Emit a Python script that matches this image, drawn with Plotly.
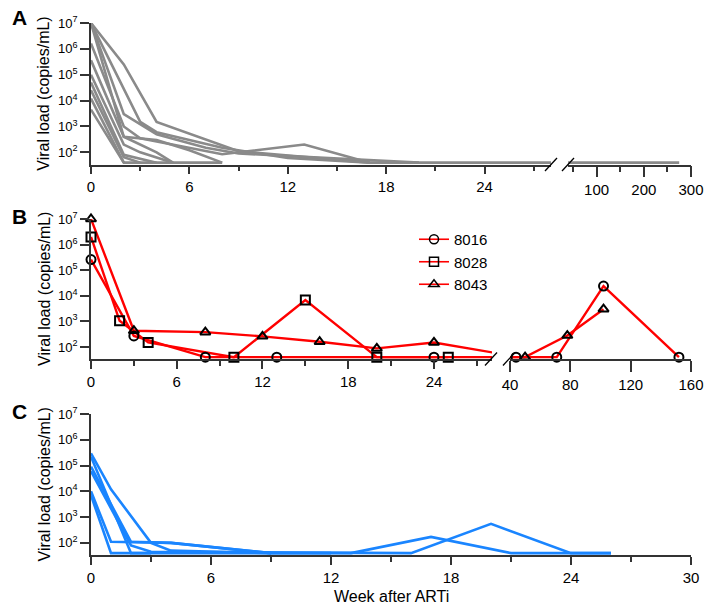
import plotly.graph_objects as go

# ---------------- DATA ----------------
# Panel A (grey): weeks after ARTi and viral load (copies/mL)
a_weeks = [
    [0, 2, 4, 9, 17, 28, 275],
    [0, 3, 4, 8, 12, 17],
    [0, 2, 4, 7, 9, 20],
    [0, 2, 3, 8, 13, 17],
    [0, 2, 4, 6, 8],
    [0, 2, 3, 5],
    [0, 2, 4],
    [0, 2, 3],
    [0, 2],
    [0, 2, 5, 8],
    [0, 2, 4, 5],
]
a_loads = [
    [1e7, 2.5e5, 1.5e3, 110, 40, 40, 40],
    [1e7, 1.5e3, 600, 150, 60, 40],
    [1e7, 3e3, 500, 150, 90, 40],
    [1.6e6, 1e3, 350, 85, 200, 40],
    [3.6e5, 400, 300, 120, 40],
    [1e5, 200, 100, 40],
    [5e4, 80, 40],
    [2.5e4, 65, 40],
    [1.2e4, 40],
    [4.5e3, 40, 40, 40],
    [1e7, 400, 100, 40],
]

# Panel B (red, three animals)
b_ids = ["8016", "8028", "8043"]
b_symbols = ["circle-open", "square-open", "triangle-up-open"]
b_weeks = [
    [0, 3, 8, 13, 24, 32, 44, 71, 102, 152],
    [0, 2, 4, 10, 15, 20, 25],
    [0, 3, 8, 12, 16, 20, 24, 30, 50, 78, 102],
]
b_loads = [
    [2.6e5, 270, 40, 40, 40, 40, 40, 40, 2.4e4, 40],
    [2e6, 1.05e3, 150, 40, 6.8e3, 40, 40],
    [1e7, 430, 380, 260, 160, 88, 150, 40, 40, 280, 3e3],
]

# Panel C (blue)
c_weeks = [
    [0, 1, 3, 4, 9],
    [0, 2, 4, 9, 13, 17, 21, 26],
    [0, 2, 3, 16, 20, 24, 26],
    [0, 1, 4, 9],
    [0, 1, 12],
    [0, 2, 3],
]
c_loads = [
    [3e5, 1.2e4, 100, 50, 40],
    [9e4, 110, 100, 40, 40, 170, 40, 40],
    [6e4, 80, 45, 40, 550, 40, 40],
    [1e4, 110, 100, 40],
    [7e3, 40, 40],
    [2.2e5, 40, 40],
]

y_tickvals = [1e2, 1e3, 1e4, 1e5, 1e6, 1e7]
y_ticktext = ["10<sup>2</sup>", "10<sup>3</sup>", "10<sup>4</sup>",
              "10<sup>5</sup>", "10<sup>6</sup>", "10<sup>7</sup>"]

# ---------------- LAYOUT GEOMETRY ----------------
W, H = 708, 609
ML, MR, MT, MB = 91, 17, 23, 54
PW, PH = W - ML - MR, H - MT - MB


def px_x(px):
    return (px - ML) / PW


def px_y(py):
    return (H - MB - py) / PH


FONT = "Liberation Sans, Arial, sans-serif"
AXC = "#333333"
GREY = "#8a8a8a"
RED = "#ff0000"
BLUE = "#1a85ff"

fig = go.Figure()

# Panel A
for wk, ld in zip(a_weeks, a_loads):
    for xa in ["x", "x2"]:
        fig.add_trace(go.Scatter(x=wk, y=ld, mode="lines", xaxis=xa, yaxis="y",
                                 line=dict(color=GREY, width=2.6), showlegend=False,
                                 hoverinfo="skip"))

# Panel B
seg_ranges_b = {"x3": (0, 28.06), "x4": (40, 160)}
for wk, ld in zip(b_weeks, b_loads):
    for xa in ["x3", "x4"]:
        fig.add_trace(go.Scatter(x=wk, y=ld, mode="lines", xaxis=xa, yaxis="y2",
                                 line=dict(color=RED, width=2.4), showlegend=False,
                                 hoverinfo="skip"))
for wk, ld, sym in zip(b_weeks, b_loads, b_symbols):
    for xa, (lo, hi) in seg_ranges_b.items():
        xs = [w for w in wk if lo <= w <= hi]
        ys = [v for w, v in zip(wk, ld) if lo <= w <= hi]
        fig.add_trace(go.Scatter(x=xs, y=ys, mode="markers", xaxis=xa, yaxis="y2",
                                 marker=dict(symbol=sym, color="black", size=9,
                                             line=dict(width=2)),
                                 cliponaxis=False, showlegend=False))
for name, sym in zip(b_ids, b_symbols):
    fig.add_trace(go.Scatter(x=[None], y=[None], mode="lines+markers", name=name,
                             xaxis="x3", yaxis="y2",
                             line=dict(color=RED, width=1.6),
                             marker=dict(symbol=sym, color="black", size=9,
                                         line=dict(width=1.5))))

# Panel C
for wk, ld in zip(c_weeks, c_loads):
    fig.add_trace(go.Scatter(x=wk, y=ld, mode="lines", xaxis="x5", yaxis="y3",
                             line=dict(color=BLUE, width=2.6), showlegend=False,
                             hoverinfo="skip"))

tickfont = dict(family=FONT, size=15, color="black")


def xaxis(domain, rng, anchor, dtick, tick0=0, minor=None, ticklen=8):
    d = dict(domain=domain, range=rng, anchor=anchor, showgrid=False, zeroline=False,
             showline=True, linecolor=AXC, linewidth=1.5, ticks="outside",
             ticklen=ticklen, tickwidth=1.5, tickcolor=AXC, tickfont=tickfont,
             tickmode="linear", tick0=tick0, dtick=dtick, automargin=False)
    if minor:
        d["minor"] = dict(ticks="outside", ticklen=minor[1], dtick=minor[0],
                          tick0=tick0, tickcolor=AXC, tickwidth=1.5, showgrid=False)
    return d


def yaxis(domain, anchor):
    return dict(domain=domain, type="log", range=[1.53, 7.0], anchor=anchor,
                showgrid=False, zeroline=False, showline=True, linecolor=AXC,
                linewidth=1.5, ticks="outside", ticklen=9, tickwidth=1.5,
                tickcolor=AXC, tickvals=y_tickvals, ticktext=y_ticktext,
                tickfont=dict(family=FONT, size=13, color="black"), automargin=False)


ydomA = [px_y(164.5), 1.0]
ydomB = [px_y(359), px_y(219)]
ydomC = [0.0, px_y(414)]

xA1 = [0, px_x(551)]
xA2 = [px_x(568), 1]
xB1 = [0, px_x(492)]
xB2 = [px_x(510), 1]

fig.update_layout(
    width=W, height=H, margin=dict(l=ML, r=MR, t=MT, b=MB, autoexpand=False),
    paper_bgcolor="white", plot_bgcolor="white",
    font=dict(family=FONT, color="black"),
    xaxis=xaxis(xA1, [0, 28.05], "y", 6, 0, (3, 5)),
    xaxis2=xaxis(xA2, [39.4, 300], "y", 100, 0, (50, 6), ticklen=11),
    xaxis3=xaxis(xB1, [0, 28.06], "y2", 6, 0, (3, 5)),
    xaxis4=xaxis(xB2, [40, 160], "y2", 40, 0, None, ticklen=11),
    xaxis5=xaxis([0, 1], [0, 30], "y3", 6, 0, (3, 5)),
    yaxis=yaxis(ydomA, "x"),
    yaxis2=yaxis(ydomB, "x3"),
    yaxis3=yaxis(ydomC, "x5"),
    showlegend=True,
    legend=dict(x=px_x(414), y=px_y(223), xanchor="left", yanchor="top",
                font=dict(family=FONT, size=15, color="black"),
                bgcolor="rgba(0,0,0,0)", itemwidth=30, tracegroupgap=0),
)

# axis break slashes
shapes = []
for cx, cy in [(551, 164.5), (568, 164.5), (491, 359), (509, 359)]:
    shapes.append(dict(type="line", xref="paper", yref="paper",
                       x0=px_x(cx - 6), y0=px_y(cy + 6.5),
                       x1=px_x(cx + 6), y1=px_y(cy - 6.5),
                       line=dict(color="black", width=1.3)))
fig.update_layout(shapes=shapes)

ann = []
for lab, yd, yc in [("A", "y", 18), ("B", "y2", 216), ("C", "y3", 411)]:
    ann.append(dict(text="<b>%s</b>" % lab, xref="paper", yref="paper",
                    x=px_x(19), y=px_y(yc), xanchor="center", yanchor="middle",
                    showarrow=False, font=dict(family=FONT, size=21, color="black")))
    ann.append(dict(text="Viral load (copies/mL)", xref="paper", yref=yd + " domain",
                    x=px_x(44), y=0.5, xanchor="center", yanchor="middle",
                    textangle=-90, showarrow=False,
                    font=dict(family=FONT, size=16, color="black")))
ann.append(dict(text="Week after ARTi", xref="paper", yref="paper",
                x=0.5, y=px_y(596), xanchor="center", yanchor="middle",
                showarrow=False, font=dict(family=FONT, size=16, color="black")))
fig.update_layout(annotations=ann)

fig.write_html("out.html", config={"displayModeBar": False},
               post_script="document.body.style.margin='0';"
                           "document.body.style.overflow='hidden';")
